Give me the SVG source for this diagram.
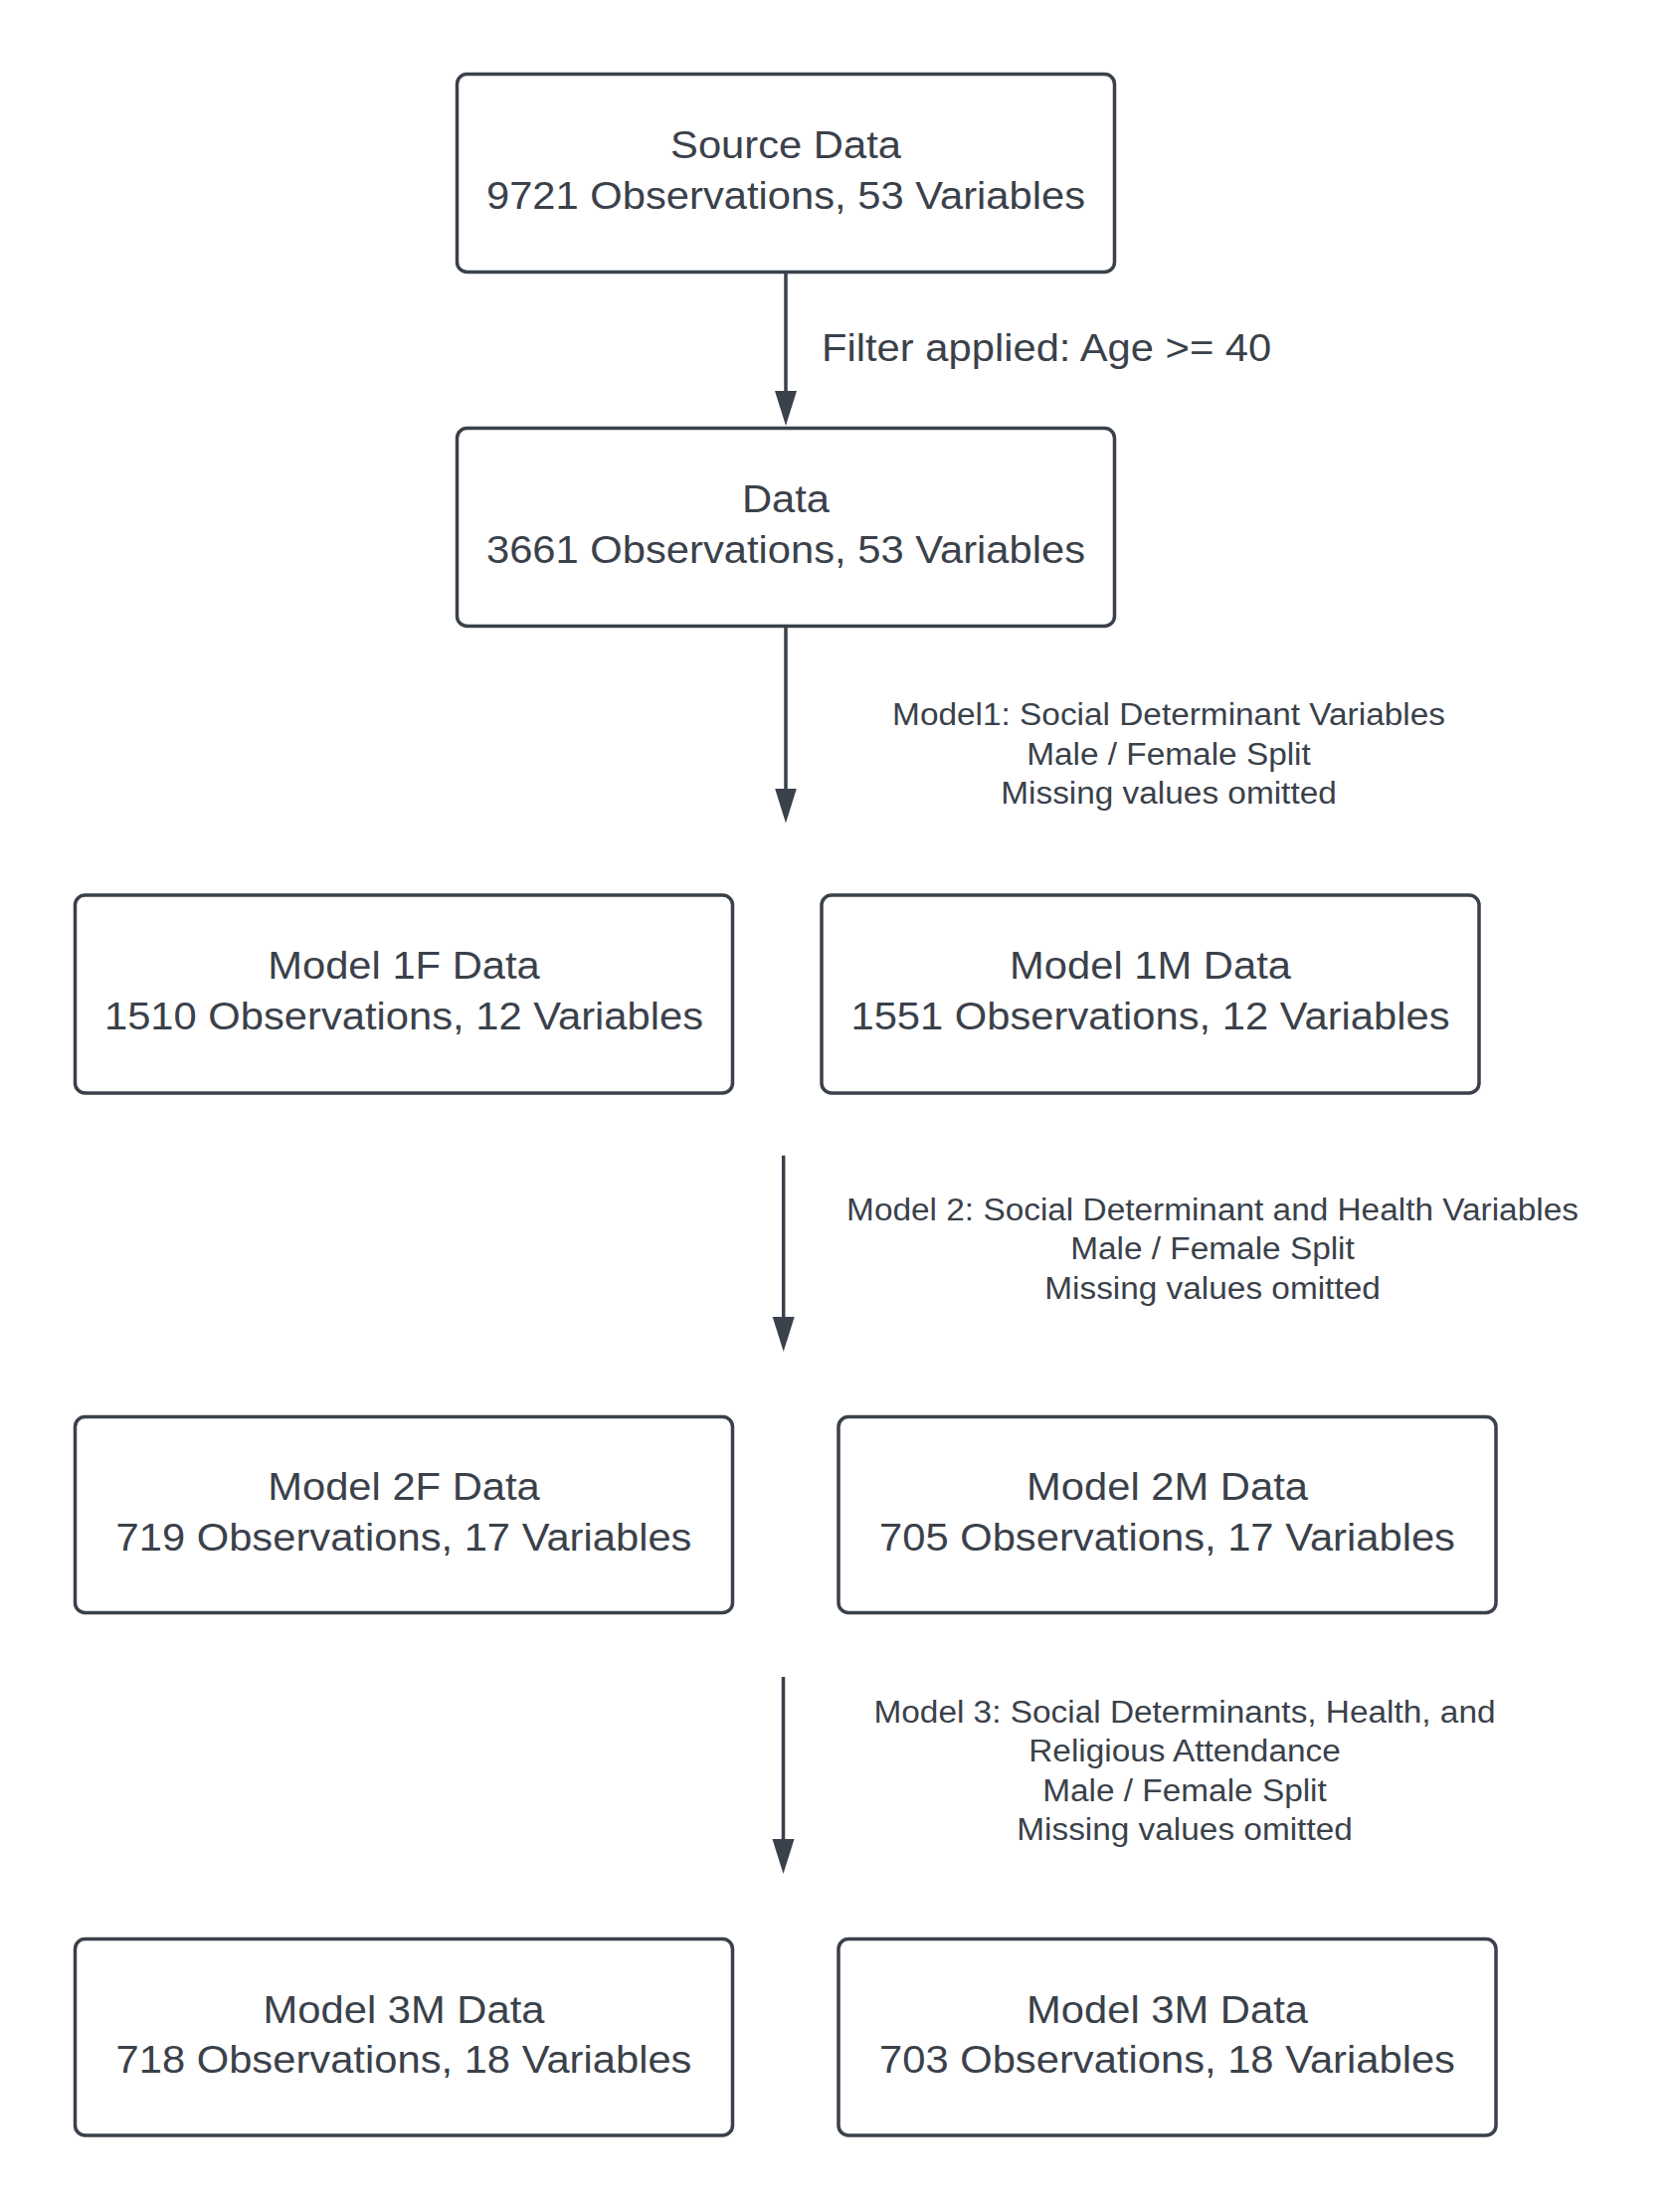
<svg xmlns="http://www.w3.org/2000/svg" width="1688" height="2224" viewBox="0 0 1688 2224">
<style>
.box{fill:#ffffff;stroke:#3a414a;stroke-width:3.5}
.t{font-family:"Liberation Sans",Arial,sans-serif;fill:#3a414a;text-anchor:middle}
.n{font-size:39px}
.l{font-size:31.2px}
.c{stroke:#3a414a;stroke-width:3.5;fill:none}
</style>
<defs>
<marker id="ah" markerUnits="userSpaceOnUse" markerWidth="40" markerHeight="24" viewBox="0 -12 40 24" refX="2" refY="0" orient="auto">
<path d="M0,-11 L35,0 L0,11 Z" fill="#3a414a"/>
</marker>
</defs>
<rect width="1688" height="2224" fill="#ffffff"/>
<g id="connectors">
<line class="c" x1="790" y1="273.5" x2="790" y2="395" marker-end="url(#ah)"/>
<line class="c" x1="790" y1="629.5" x2="790" y2="794.5" marker-end="url(#ah)"/>
<line class="c" x1="787.7" y1="1161.7" x2="787.7" y2="1326" marker-end="url(#ah)"/>
<line class="c" x1="787.5" y1="1686" x2="787.5" y2="1851" marker-end="url(#ah)"/>
<g transform="translate(826,0) scale(1.07,1)"><text class="t n" x="0" y="363.5" style="text-anchor:start">Filter applied: Age &gt;= 40</text></g>
<g transform="translate(1175,0) scale(1.07,1)"><text class="t l"><tspan x="0" y="729.3">Model1: Social Determinant Variables</tspan><tspan x="0" y="768.8">Male / Female Split</tspan><tspan x="0" y="808.3">Missing values omitted</tspan></text></g>
<g transform="translate(1219,0) scale(1.07,1)"><text class="t l"><tspan x="0" y="1227">Model 2: Social Determinant and Health Variables</tspan><tspan x="0" y="1266.5">Male / Female Split</tspan><tspan x="0" y="1306">Missing values omitted</tspan></text></g>
<g transform="translate(1191,0) scale(1.07,1)"><text class="t l"><tspan x="0" y="1732">Model 3: Social Determinants, Health, and</tspan><tspan x="0" y="1771.5">Religious Attendance</tspan><tspan x="0" y="1811">Male / Female Split</tspan><tspan x="0" y="1850.5">Missing values omitted</tspan></text></g>
</g>
<g id="source">
<rect class="box" x="459.5" y="74.5" width="661" height="199" rx="10"/>
<g transform="translate(790,0) scale(1.07,1)"><text class="t n"><tspan x="0" y="159.3">Source Data</tspan><tspan x="0" y="210">9721 Observations, 53 Variables</tspan></text></g>
</g>
<g id="data">
<rect class="box" x="459.5" y="430.5" width="661" height="199" rx="10"/>
<g transform="translate(790,0) scale(1.07,1)"><text class="t n"><tspan x="0" y="515.5">Data</tspan><tspan x="0" y="566">3661 Observations, 53 Variables</tspan></text></g>
</g>
<g id="model1f">
<rect class="box" x="75.5" y="900" width="661" height="199" rx="10"/>
<g transform="translate(406,0) scale(1.07,1)"><text class="t n"><tspan x="0" y="984.5">Model 1F Data</tspan><tspan x="0" y="1035">1510 Observations, 12 Variables</tspan></text></g>
</g>
<g id="model1m">
<rect class="box" x="826" y="900" width="661" height="199" rx="10"/>
<g transform="translate(1156.5,0) scale(1.07,1)"><text class="t n"><tspan x="0" y="984.5">Model 1M Data</tspan><tspan x="0" y="1035">1551 Observations, 12 Variables</tspan></text></g>
</g>
<g id="model2f">
<rect class="box" x="75.5" y="1424.5" width="661" height="197" rx="10"/>
<g transform="translate(406,0) scale(1.07,1)"><text class="t n"><tspan x="0" y="1508.5">Model 2F Data</tspan><tspan x="0" y="1559">719 Observations, 17 Variables</tspan></text></g>
</g>
<g id="model2m">
<rect class="box" x="843" y="1424.5" width="661" height="197" rx="10"/>
<g transform="translate(1173.5,0) scale(1.07,1)"><text class="t n"><tspan x="0" y="1508.5">Model 2M Data</tspan><tspan x="0" y="1559">705 Observations, 17 Variables</tspan></text></g>
</g>
<g id="model3f">
<rect class="box" x="75.5" y="1949.5" width="661" height="197.5" rx="10"/>
<g transform="translate(406,0) scale(1.07,1)"><text class="t n"><tspan x="0" y="2034">Model 3M Data</tspan><tspan x="0" y="2084.5">718 Observations, 18 Variables</tspan></text></g>
</g>
<g id="model3m">
<rect class="box" x="843" y="1949.5" width="661" height="197.5" rx="10"/>
<g transform="translate(1173.5,0) scale(1.07,1)"><text class="t n"><tspan x="0" y="2034">Model 3M Data</tspan><tspan x="0" y="2084.5">703 Observations, 18 Variables</tspan></text></g>
</g>
</svg>
